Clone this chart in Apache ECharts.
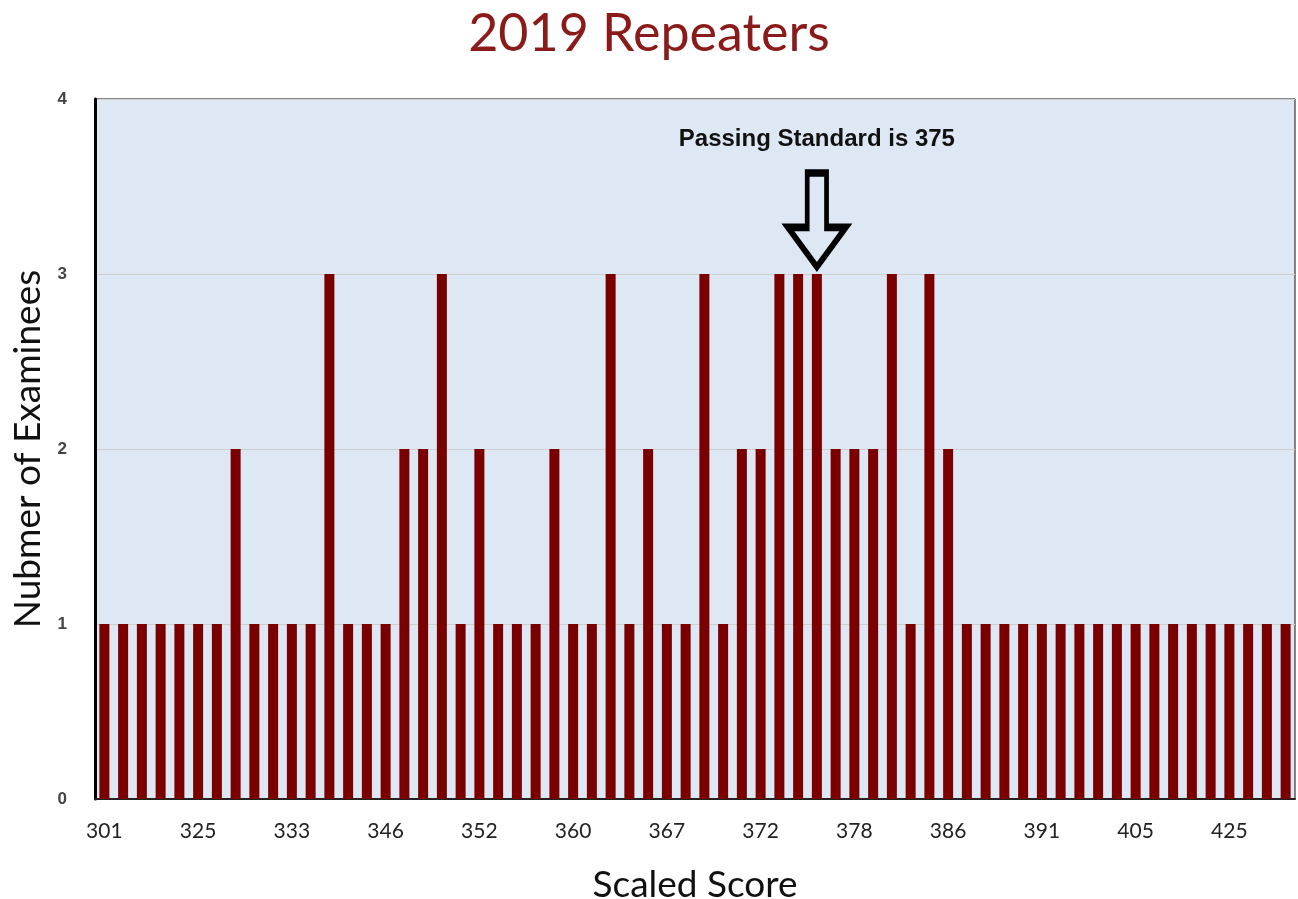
<!DOCTYPE html>
<html>
<head>
<meta charset="utf-8">
<script src="https://cdn.jsdelivr.net/npm/echarts@6/dist/echarts.min.js"></script>
<style>html,body{margin:0;padding:0;background:#fff;}#c{width:1298px;height:899px;}</style>
</head>
<body>
<div id="c"></div>
<script>
const scores = ['301','308','313','318','321','325','326','328','330','331','333','335','338','341','343','346','347','348','349','350','352','354','356','357','358','360','362','363','364','366','367','368','369','370','371','372','373','374','375','376','378','379','381','383','384','386','387','388','389','390','391','393','396','399','402','405','409','413','417','421','425','428','432','436'];
const examinees = [1,1,1,1,1,1,1,2,1,1,1,1,3,1,1,1,2,2,3,1,2,1,1,1,2,1,1,3,1,2,1,1,3,1,2,2,3,3,3,2,2,2,3,1,3,2,1,1,1,1,1,1,1,1,1,1,1,1,1,1,1,1,1,1];
const passingScore = '375';
const yTicks = [0,1,2,3,4];

const chart = echarts.init(document.getElementById('c'));
chart.setOption({
  animation: false,
  backgroundColor: '#ffffff',
  title: {
    text: '2019 Repeaters', left: 'center', top: 3,
    textStyle: { fontFamily: 'Lato', fontSize: 52, fontWeight: 'normal', color: '#8b1a1a' }
  },
  grid: { left: 95, right: 3, top: 99, bottom: 100, containLabel: false, outerBoundsMode: 'none',
          show: true, backgroundColor: '#dde8f4', borderColor: '#111', borderWidth: 1 },
  xAxis: {
    type: 'category', data: scores,
    name: 'Scaled Score', nameLocation: 'middle', nameGap: 68,
    nameTextStyle: { fontFamily: 'Lato', fontSize: 37, color: '#111' },
    axisLine: { lineStyle: { color: '#222', width: 2 } },
    axisTick: { show: false },
    axisLabel: { interval: 4, margin: 22, fontFamily: 'Lato', fontSize: 21, color: '#222' }
  },
  yAxis: {
    type: 'value', min: yTicks[0], max: yTicks[yTicks.length-1], interval: 1,
    name: 'Nubmer of Examinees', nameLocation: 'middle', nameGap: 48,
    nameTextStyle: { fontFamily: 'Lato', fontSize: 37, color: '#111' },
    axisLine: { show: true, lineStyle: { color: '#000', width: 3 } },
    axisTick: { show: false },
    axisLabel: { margin: 28, fontFamily: 'Liberation Sans', fontWeight: 'bold', fontSize: 17, color: '#444' },
    splitLine: { lineStyle: { color: '#cfcfcf', width: 1 } }
  },
  series: [{
    type: 'bar', data: examinees, barWidth: 10,
    itemStyle: { color: '#7a0000' },
    markPoint: {
      silent: true,
      data: [{
        coord: [passingScore, 3],
        symbol: 'path://M20 0 L40 0 L40 55 L60 55 L30 95 L0 55 L20 55 Z',
        symbolSize: [58, 94],
        symbolOffset: [0, -54],
        itemStyle: { color: 'rgba(0,0,0,0)', borderColor: '#000', borderWidth: 6 },
        label: {
          show: true, position: 'top', distance: 18,
          formatter: 'Passing Standard is ' + passingScore,
          fontFamily: 'Liberation Sans', fontWeight: 'bold', fontSize: 24, color: '#111'
        }
      }]
    }
  }]
});
</script>
</body>
</html>
